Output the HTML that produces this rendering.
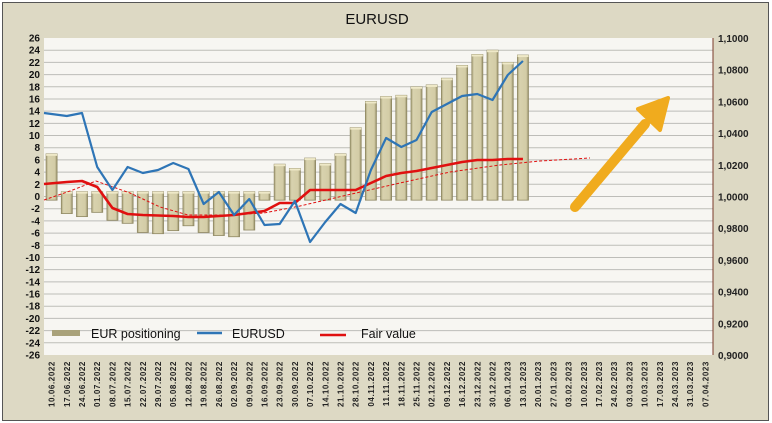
<!DOCTYPE html>
<html><head><meta charset="utf-8"><style>
html,body{margin:0;padding:0;background:#fff;}
svg{display:block;font-family:"Liberation Sans",sans-serif;}
</style></head><body>
<svg width="772" height="423" viewBox="0 0 772 423" xmlns="http://www.w3.org/2000/svg">
<defs>
<linearGradient id="bar" x1="0" x2="1" y1="0" y2="0">
<stop offset="0" stop-color="#a9a27a"/><stop offset="0.2" stop-color="#d8d2ae"/><stop offset="0.8" stop-color="#d3cca6"/><stop offset="1" stop-color="#97906a"/>
</linearGradient>
</defs>
<rect x="0" y="0" width="772" height="423" fill="#fff"/>
<rect x="2.5" y="2.5" width="766" height="418" fill="#ddd9c4" stroke="#555" stroke-width="1"/>
<text x="377" y="24" font-size="15" text-anchor="middle" fill="#111">EURUSD</text>
<rect x="44" y="38" width="669" height="317" fill="#f7f6f2"/>
<g id="grid" stroke="#bdbdb8" stroke-width="1"></g>
<g id="bars"></g>
<g id="lines"></g>
<line x1="713" y1="38" x2="713" y2="355" stroke="#7a3a2a" stroke-width="1"/>
<g id="ylab" font-size="10" font-weight="bold" fill="#111" text-anchor="end"></g>
<g id="rlab" font-size="10" font-weight="bold" fill="#222"></g>
<g id="xlab" font-size="8" font-weight="bold" fill="#222"></g>
<!-- arrow -->
<line x1="575" y1="207" x2="645" y2="124" stroke="#f0ab1e" stroke-width="10" stroke-linecap="round"/>
<polygon points="668,98 638,109 660,130" fill="#f0ab1e" stroke="#f0ab1e" stroke-width="4" stroke-linejoin="round"/>
<!-- legend -->
<rect x="52" y="330" width="28" height="6" fill="#a9a27a"/>
<text x="91" y="338" font-size="12.5" fill="#111">EUR positioning</text>
<line x1="197" y1="333" x2="222" y2="333" stroke="#2e75b6" stroke-width="2.5"/>
<text x="232" y="338" font-size="12.5" fill="#111">EURUSD</text>
<line x1="320" y1="335" x2="346" y2="335" stroke="#e01010" stroke-width="2.5"/>
<text x="361" y="338" font-size="12.5" fill="#111">Fair value</text>
</svg>
<script>
(function(){
const NS="http://www.w3.org/2000/svg";
function el(p,t,a,txt){const e=document.createElementNS(NS,t);for(const k in a)e.setAttribute(k,a[k]);if(txt!=null)e.textContent=txt;document.getElementById(p).appendChild(e);return e;}
const T=38,B=355,ppu=(B-T)/52;
const Y=v=>T+(26-v)*ppu;
for(let v=-26;v<=26;v+=2){
 if(v>-26&&v<26) el("grid","line",{x1:44,x2:713,y1:Y(v),y2:Y(v)});
 el("ylab","text",{x:40,y:Y(v)+3.5},String(v));
}
const rv=["1,1000","1,0800","1,0600","1,0400","1,0200","1,0000","0,9800","0,9600","0,9400","0,9200","0,9000"];
rv.forEach((t,i)=>{const y=T+i*(B-T)/10;el("rlab","text",{x:718,y:y+4},t);});
const cw=669/44,cx=i=>44+cw/2+i*cw;
const dates=[];let d=new Date(Date.UTC(2022,5,10));
for(let i=0;i<44;i++){const s=String(d.getUTCDate()).padStart(2,"0")+"."+String(d.getUTCMonth()+1).padStart(2,"0")+"."+d.getUTCFullYear();dates.push(s);d=new Date(d.getTime()+7*864e5);}
dates.forEach((s,i)=>{const x=cx(i)+3;el("xlab","text",{x:x,y:361,transform:"rotate(-90 "+x+" 361)","text-anchor":"end","letter-spacing":"0.6"},s);});
const bars=[7,-2.8,-3.3,-2.6,-3.9,-4.4,-5.9,-6.1,-5.6,-4.8,-5.9,-6.4,-6.6,-5.5,-0.5,5.3,4.6,6.3,5.4,7,11.3,15.6,16.4,16.6,18,18.3,19.4,21.5,23.3,24,22,23.2];
bars.forEach((v,i)=>{let y1,y2;if(v>0){y1=Y(v);y2=Y(-0.6);}else if(v>-1){y1=Y(0.8);y2=Y(-0.6);}else{y1=Y(0.8);y2=Y(v);}
 el("bars","rect",{x:cx(i)-5.5,y:y1,width:11,height:y2-y1,fill:"url(#bar)",stroke:"#8f8862","stroke-width":0.8});
 el("bars","rect",{x:cx(i)-5.5,y:y1,width:11,height:2,fill:"#efe9c8"});});
const eur=[113,116,113,167,190,167,173,170,163,169,204,192,215,199,225,224,201,242,222,204,213,170,138,147,140,112,104,96,94,100,75,61];
const fv=[184,182,181,187,208,214,215,215.5,216,217,217,216,215,213,211,203,203,190,190,190,190,183,176,173,171,168,165,162,160,160,159,159];
const pts=a=>a.map((y,i)=>(i==0?44:cx(i))+","+y).join(" ");
el("lines","polyline",{points:"44,200 70,191 96,181 130,193 160,207 188,215 230,215 264,213 300,206 343,196 400,183 450,172 500,165 540,161 590,158",fill:"none",stroke:"#e01010","stroke-width":1,"stroke-dasharray":"3,2"});
el("lines","polyline",{points:pts(fv),fill:"none",stroke:"#e01010","stroke-width":2.6,"stroke-linejoin":"round"});
el("lines","polyline",{points:pts(eur),fill:"none",stroke:"#2e75b6","stroke-width":2.2,"stroke-linejoin":"round"});
})();
</script>
</body></html>
